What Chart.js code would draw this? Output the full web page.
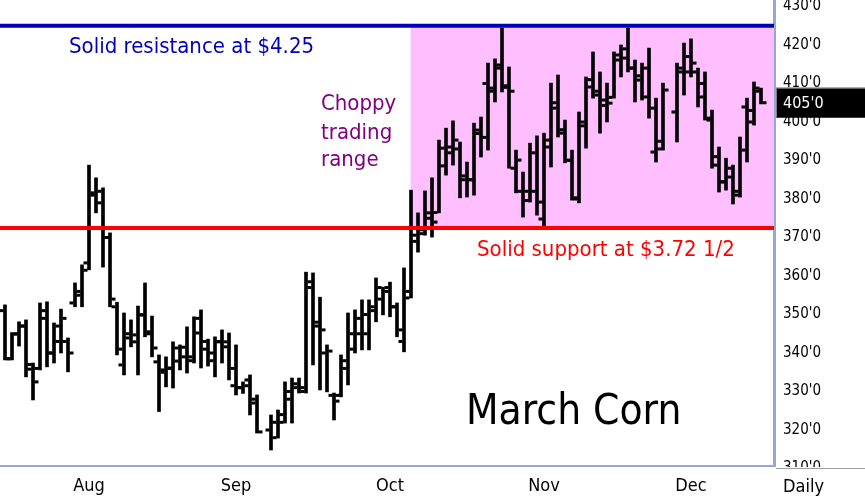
<!DOCTYPE html>
<html><head><meta charset="utf-8">
<script src="https://cdn.jsdelivr.net/npm/chart.js@4.4.1/dist/chart.umd.min.js"></script>
<style>html,body{margin:0;padding:0;background:#fff;overflow:hidden}#wrap{width:865px;height:501px;position:relative}</style>
</head><body><div id="wrap"><canvas id="c" width="865" height="501"></canvas></div>
<script>
// Daily OHLC, March Corn (cents/bu). null = holiday gap (Labor Day, Thanksgiving)
const opens  = [351,338.5,345,347,335.8,336,349,340,343,343,353,356,363.4,381,382,370,352,336.9,345,342.9,349.9,345,337.7,335.6,336,337.9,339,339,345.2,341,338,343,341.6,331.5,331,333,328,null,320,322,324,328,332,331,357,347,340,329,329,336,341,345,350,351,354,357,352,343,356,369,372,375,376.5,388.6,392,393,386,385,397,410,408,414,409.4,388,382,379.6,392,374.8,393.5,405,398,390,380,399,411,408,404.3,406.4,417.4,419,414,412,414,392.2,395,null,402.6,414,417,413,406.5,400.5,388.8,384.5,385.7,382,403.9,403,408];
const highs  = [352.5,345.3,348.1,348.6,337.4,353,353.3,347.8,351.4,343.9,358.2,362.9,388.8,385.5,382.9,371.2,353.2,350.4,348.6,352.2,358.2,349.6,339.5,339,342.9,342.1,346.8,349.4,351.2,343.6,344.2,346,345.2,342.1,332.5,334.3,329.1,null,323.9,325.2,332.5,333.5,333.5,361,360.8,354.5,342.1,329.6,339.5,350.4,351.2,353.8,353.8,359.5,357.1,358.4,353,362.1,382.3,376.4,382.1,385.5,395.3,398.4,400.3,394.8,389.6,399.7,401.3,415.3,416.4,424.4,414.3,392.7,387,394.5,396.4,397.1,410.1,412.2,400.5,392.7,402.6,411.7,418.2,413,410.1,418.2,420,424.4,416.1,415.3,419.2,406.2,410.1,null,415.3,420.5,421.6,414,413,403.1,393.5,390.6,388.8,396.1,406.2,410.4,408.8];
const lows   = [338.2,338.2,341.8,333.8,327.8,335.6,336.4,337.4,340,335.1,352,352,361.6,376.4,362.3,352,339.5,334.3,341.6,334.3,344.2,339,324.8,331.2,330.9,335.6,334.8,337.4,336.1,336.6,333.8,337.4,333,329.1,329.5,323.9,319.2,null,314.8,317.9,321.8,321.8,329.6,329.6,336.9,330.4,329.9,322.6,328.6,331.7,340,340.8,340.8,348.1,349.9,349.4,344.2,340.3,354.3,366.2,370.6,370.1,376.4,386.2,388.8,380.3,380.5,381,390.9,392.7,405.2,407.8,388,381.6,375.3,379.2,375.8,372.5,388.3,396.1,389.4,379.7,379,393.2,406.2,397.1,400,406.2,411.7,413,405.2,405.7,401,389.6,392.7,null,394.8,407,411.7,403.9,400.5,388,381.8,382.3,378.7,380.5,389.6,399.2,404.7];
const closes = [338.5,344.9,347,337,332.5,351,340,347,349,340,355,361.5,381.6,379,370,354,341,343.9,344.7,349.9,345.5,341.3,335,336.1,341.3,341.5,338,349,343,340,342.9,342.9,336,331,331.5,327,319.5,null,318,322,330,331,330,358.5,348,346,340.5,327.5,338,345,349,345,352,357,356,352,346,354.3,370.6,371,376.4,374,393.2,393.5,395.3,385,385,397.9,396,408.8,414.8,409,408,390.1,382,382,379.2,395.3,403.6,397.1,390.1,380.3,400,409.1,407,405.7,404.9,416.1,416.6,414,410.9,406.5,403.6,393,408.3,null,413,413,415.3,410,401,391,384.4,388,381,392.7,400,408.8,405];
const monthTickIndex = [12,33,55,77,98];
const monthLabels = ['Aug','Sep','Oct','Nov','Dec'];
const priceTicks = [310,320,330,340,350,360,370,380,390,400,410,420,430];
const resistance = 425;
const support = 372.5;
const rangeStartIndex = 57.95;
const lastPrice = 405;

const FONT = "'DejaVu Sans Condensed', 'DejaVu Sans', sans-serif";
const idx = opens.map((o,i)=>i).filter(i=>opens[i]!==null);
const rangeData = idx.map(i=>({x:i, y:[lows[i], highs[i]]}));
const openData  = idx.map(i=>({x:i-0.5, y:opens[i]}));
const closeData = idx.map(i=>({x:i+0.5, y:closes[i]}));
const X_MIN = -5/7, X_MAX = -5/7 + 774/7;
const Y_MAX = 420 + 45/3.85, Y_MIN = 420 - 421/3.85;

const tickStyle = {type:'line', showLine:false, pointStyle:'line', pointRadius:2, pointBorderWidth:3,
  pointBorderColor:'#000', pointBackgroundColor:'#000', borderColor:'#000', order:1};

const bgPlugin = {
  id:'bg',
  beforeDatasetsDraw(chart){
    const {ctx, chartArea:a, scales:{x,y}} = chart;
    ctx.save();
    ctx.fillStyle = '#FFBFFF';
    const x0 = x.getPixelForValue(rangeStartIndex);
    const y0 = y.getPixelForValue(resistance), y1 = y.getPixelForValue(support);
    ctx.fillRect(x0, y0, a.right - x0, y1 - y0);
    ctx.restore();
  },
  afterDraw(chart){
    const {ctx, chartArea:a, scales:{y}} = chart;
    ctx.save();
    // clip lower tick label like the reference frame
    ctx.fillStyle = '#fff';
    ctx.fillRect(a.right + 2, 467, chart.width - a.right, chart.height - 467);
    ctx.strokeStyle = '#A0A0A0'; ctx.lineWidth = 1;
    ctx.beginPath(); ctx.moveTo(a.right + 2, 468.5); ctx.lineTo(chart.width, 468.5); ctx.stroke();
    ctx.fillStyle = '#000'; ctx.textBaseline = 'middle'; ctx.textAlign = 'left';
    ctx.font = '18px ' + FONT;
    ctx.fillText('Daily', 783, 487);
    // last price box
    const py = y.getPixelForValue(lastPrice);
    ctx.fillStyle = '#000';
    ctx.fillRect(a.right + 2, py - 15, chart.width - a.right - 2, 30);
    ctx.strokeStyle = '#808080';
    ctx.beginPath(); ctx.moveTo(a.right + 2.5, py + 15); ctx.lineTo(a.right + 2.5, py - 14.5); ctx.lineTo(chart.width, py - 14.5); ctx.stroke();
    ctx.fillStyle = '#fff'; ctx.font = '16px ' + FONT;
    ctx.fillText(lastPrice + "'0", 783, py + 1);
    // annotations
    ctx.textBaseline = 'alphabetic';
    ctx.fillStyle = '#0000B8'; ctx.font = '22px ' + FONT;
    ctx.fillText('Solid resistance at $4.25', 69, 53);
    ctx.fillStyle = '#800080';
    ctx.fillText('Choppy', 321, 110);
    ctx.fillText('trading', 321, 139);
    ctx.fillText('range', 321, 166);
    ctx.fillStyle = '#FF0000';
    ctx.fillText('Solid support at $3.72 1/2', 477, 256);
    ctx.fillStyle = '#000'; ctx.font = '42px ' + FONT;
    ctx.fillText('March Corn', 466, 424);
    ctx.restore();
  }
};

new Chart(document.getElementById('c'), {
  type:'bar',
  data:{datasets:[
    {type:'line', data:[{x:X_MIN,y:resistance},{x:X_MAX,y:resistance}], borderColor:'#0000B8', borderWidth:4, pointRadius:0, order:0},
    {type:'line', data:[{x:X_MIN,y:support},{x:X_MAX,y:support}], borderColor:'#FF0000', borderWidth:4, pointRadius:0, order:0},
    Object.assign({data:openData}, tickStyle),
    Object.assign({data:closeData}, tickStyle),
    {type:'bar', data:rangeData, backgroundColor:'#000', borderWidth:0, barThickness:3, grouped:false, order:2}
  ]},
  options:{
    responsive:false, devicePixelRatio:1, animation:false, events:[],
    layout:{padding:0, autoPadding:false},
    plugins:{legend:{display:false}, tooltip:{enabled:false}},
    scales:{
      x:{type:'linear', min:X_MIN, max:X_MAX, offset:false,
        grid:{display:false, drawTicks:false},
        border:{display:true, color:'#94A6DE', width:2},
        afterBuildTicks(s){ s.ticks = monthTickIndex.map(v=>({value:v})); },
        afterFit(s){ s.height = 35; s.paddingLeft = 0; s.paddingRight = 0; },
        ticks:{autoSkip:false, maxRotation:0, padding:10, color:'#000', font:{family:FONT, size:18},
          callback:(v)=>monthLabels[monthTickIndex.indexOf(v)]}
      },
      y:{type:'linear', position:'right', min:Y_MIN, max:Y_MAX,
        grid:{display:false, drawTicks:false},
        border:{display:true, color:'#94A6DE', width:3},
        afterBuildTicks(s){ s.ticks = priceTicks.map(v=>({value:v})); },
        afterFit(s){ s.width = 91; s.paddingTop = 0; s.paddingBottom = 0; },
        ticks:{padding:9, color:'#000', font:{family:FONT, size:15},
          callback:(v)=>Math.round(v) + "'0"}
      }
    }
  },
  plugins:[bgPlugin]
});
</script></body></html>
